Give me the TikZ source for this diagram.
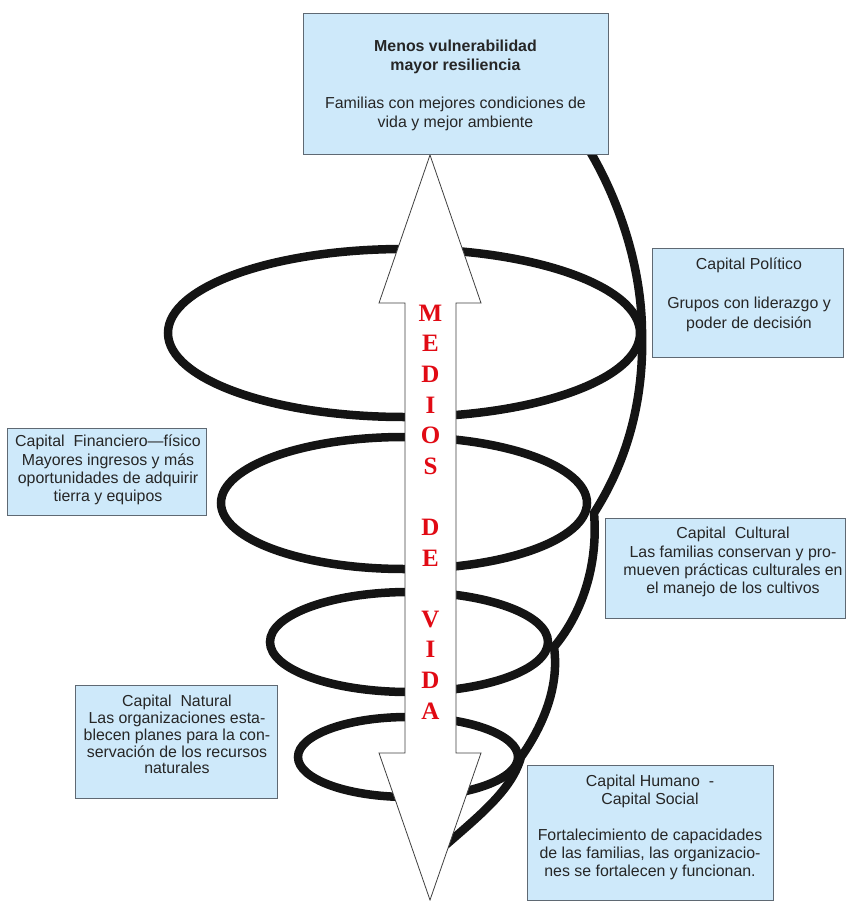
\documentclass[tikz,border=0pt]{standalone}
\usepackage{fontspec}
\setmainfont{Liberation Sans}
\newfontfamily\letterfont{Liberation Serif}
\usetikzlibrary{positioning}
\definecolor{boxfill}{RGB}{206,233,250}
\definecolor{boxline}{RGB}{95,105,115}
\definecolor{lettred}{RGB}{225,10,20}

\begin{document}
\begin{tikzpicture}[x=1pt,y=-1pt,
  box/.style={draw=boxline,fill=boxfill,line width=0.9pt,inner sep=0,anchor=north west},
  txt/.style={align=center,inner sep=0,anchor=north,text=black!85,font=\fontsize{15.9}{#1}\selectfont},
  txt/.default=18.7,
  coil/.style={line width=8.5pt,black!92,line cap=round}]
\useasboundingbox (0,0) rectangle (846,901);
% spiral loops
\foreach \cx/\cy/\rx/\ry in {404/333/236/84,404/503/183/66,409/642/139/50,408/757/110/40} {
  \draw[coil] (\cx,\cy) ellipse [x radius=\rx, y radius=\ry];
}
% the thread that runs down the right side
\draw[coil] (583,140) .. controls (615,190) and (641,260) .. (642,330)
  .. controls (645,420) and (615,480) .. (594,513)
  .. controls (598,560) and (585,610) .. (554,647)
  .. controls (560,690) and (540,730) .. (521,757)
  .. controls (512,790) and (480,815) .. (440,850);
% double arrow
\draw[black!75,fill=white,line width=0.8pt] (430,155) -- (481,303) -- (456,303) -- (456,753)
  -- (481,753) -- (430,900) -- (379,753) -- (405,753) -- (405,303) -- (379,303) -- cycle;
\node[text=lettred,font=\letterfont\bfseries\fontsize{25}{30.6}\selectfont,align=center,inner sep=0]
  (medios) at (430.5,512) {M\\E\\D\\I\\O\\S\\~\\D\\E\\~\\V\\I\\D\\A};
% boxes
\node[box,minimum width=305,minimum height=141] (res) at (303,13) {};
\node[txt=19] (restxt) at (455.5,40) {\textbf{Menos vulnerabilidad}\\\textbf{mayor resiliencia}\\~\\
  Familias con mejores condiciones de\\vida y mejor ambiente};
\node[box,minimum width=191,minimum height=109] (pol) at (652,248) {};
\node[txt=19.5] (poltxt) at (749,258) {Capital Político\\~\\Grupos con liderazgo y\\poder de decisión};
\node[box,minimum width=199,minimum height=87] (fin) at (7,428) {};
\node[txt=18.3] (fintxt) at (108,435) {Capital~~Financiero—físico\\Mayores ingresos y más\\
  oportunidades de adquirir\\tierra y equipos};
\node[box,minimum width=240,minimum height=100] (cul) at (605,518) {};
\node[txt=18.3] (cultxt) at (733,527) {Capital~~Cultural\\Las familias conservan y pro-\\
  mueven prácticas culturales en\\el manejo de los cultivos};
\node[box,minimum width=202,minimum height=113] (nat) at (75,685) {};
\node[txt=16.8] (nattxt) at (177,695) {Capital~~Natural\\Las organizaciones esta-\\
  blecen planes para la con-\\servación de los recursos\\naturales};
\node[box,minimum width=246,minimum height=135] (hum) at (527,765) {};
\node[txt=18] (humtxt) at (650,775) {Capital Humano~~-\\Capital Social\\~\\
  Fortalecimiento de capacidades\\de las familias, las organizacio-\\nes se fortalecen y funcionan.};
\end{tikzpicture}
\end{document}
